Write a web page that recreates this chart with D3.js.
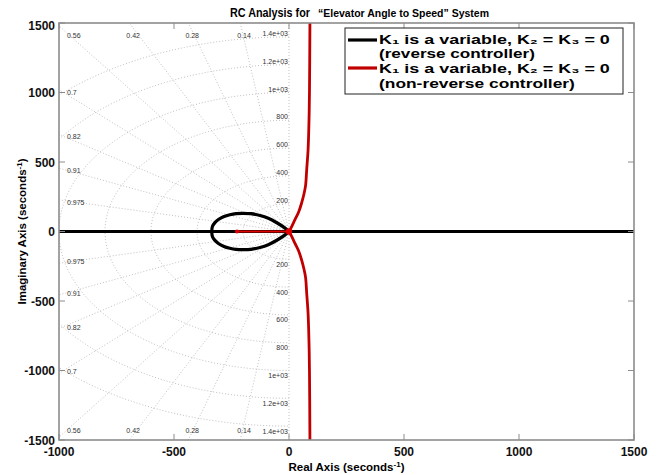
<!DOCTYPE html>
<html>
<head>
<meta charset="utf-8">
<script src="https://cdn.jsdelivr.net/npm/d3@7"></script>
<style>
  html, body { margin: 0; padding: 0; background: #fff; }
  svg { display: block; }
  text { font-family: "Liberation Sans", Arial, sans-serif; }
</style>
</head>
<body>
<div id="chart"></div>
<script>
// Axis ticks
const realTicks = [-1000, -500, 0, 500, 1000, 1500];
const imagTicks = [-1500, -1000, -500, 0, 500, 1000, 1500];

// s-plane grid: damping ratios and natural frequencies (rad/s)
const dampingRatios = [0.14, 0.28, 0.42, 0.56, 0.7, 0.82, 0.91, 0.975];
const dampingLabels = ["0.14", "0.28", "0.42", "0.56", "0.7", "0.82", "0.91", "0.975"];
const naturalFreqs = [200, 400, 600, 800, 1000, 1200, 1400];
const freqLabels = ["200", "400", "600", "800", "1e+03", "1.2e+03", "1.4e+03"];

// Legend entries
const legendGain = "K\u2081 is a variable, K\u2082 = K\u2083 = 0";
const legendNotes = ["(reverse controller)", "(non-reverse controller)"];

// Reverse controller locus: real-axis branch and the closed loop (upper half, mirrored below)
const blackAxisRe = [-1000, 1500];
const blackLoopRe = [0, -20, -53, -90, -126, -165, -199, -230, -257, -285, -307, -323, -333, -336];
const blackLoopIm = [0, 28, 63, 95, 115, 128, 131, 129, 121, 106, 86, 62, 36, 0];

// Non-reverse controller locus: real-axis segment and branch (upper half, mirrored below)
const redAxisRe = [-226, 0];
const redBranchRe = [0, 10, 26, 42, 55, 65, 72, 77, 83, 87, 89, 91];
const redBranchIm = [0, 30, 86, 140, 206, 270, 330, 446, 590, 800, 1000, 1500];

const W = 659, H = 475;
const plot = { left: 59, right: 634, top: 23, bottom: 440 };

const x = d3.scaleLinear().domain([-1000, 1500]).range([plot.left, plot.right]);
const y = d3.scaleLinear().domain([-1500, 1500]).range([plot.bottom, plot.top]);

const svg = d3.select("#chart").append("svg")
  .attr("width", W).attr("height", H);

svg.append("defs").append("clipPath").attr("id", "plotClip")
  .append("rect")
  .attr("x", plot.left).attr("y", plot.top)
  .attr("width", plot.right - plot.left).attr("height", plot.bottom - plot.top);

const area = svg.append("g").attr("clip-path", "url(#plotClip)");
const gridG = area.append("g")
  .attr("fill", "none").attr("stroke", "#b0b0b0")
  .attr("stroke-width", 0.8).attr("stroke-dasharray", "1,2");

// Constant damping rays
dampingRatios.forEach(z => {
  const s = Math.sqrt(1 - z * z);
  [1, -1].forEach(sign => {
    gridG.append("line")
      .attr("x1", x(0)).attr("y1", y(0))
      .attr("x2", x(-z * 5000)).attr("y2", y(sign * s * 5000));
  });
});
// Imaginary axis (zero damping)
gridG.append("line")
  .attr("x1", x(0)).attr("y1", y(-1500)).attr("x2", x(0)).attr("y2", y(1500));

// Constant natural-frequency arcs (left half plane)
const arcLine = d3.line().x(d => x(d[0])).y(d => y(d[1]));
naturalFreqs.forEach(wn => {
  const pts = d3.range(90, 270.5, 1).map(a => {
    const r = a * Math.PI / 180;
    return [wn * Math.cos(r), wn * Math.sin(r)];
  });
  gridG.append("path").attr("d", arcLine(pts));
});

// Grid labels
const gridLbl = svg.append("g").attr("font-size", 7).attr("fill", "#333");
dampingRatios.forEach((z, i) => {
  const s = Math.sqrt(1 - z * z);
  const tLeft = 1000 / z, tTop = 1500 / s;
  if (tLeft <= tTop) {
    const ex = y(s * tLeft), exL = y(-s * tLeft);
    gridLbl.append("text").attr("x", plot.left + 8)
      .attr("y", Math.max(ex + 5, plot.top + 15)).text(dampingLabels[i]);
    gridLbl.append("text").attr("x", plot.left + 8)
      .attr("y", Math.min(exL + 1, plot.bottom - 7)).text(dampingLabels[i]);
  } else {
    const exX = x(-z * tTop);
    gridLbl.append("text").attr("x", exX - 3).attr("y", plot.top + 15).text(dampingLabels[i]);
    gridLbl.append("text").attr("x", exX - 3).attr("y", plot.bottom - 7).text(dampingLabels[i]);
  }
});
naturalFreqs.forEach((wn, i) => {
  gridLbl.append("text").attr("text-anchor", "end")
    .attr("x", x(0) - 1).attr("y", y(wn) - 1).text(freqLabels[i]);
  gridLbl.append("text").attr("text-anchor", "end")
    .attr("x", x(0) - 1).attr("y", y(-wn) + 7.5).text(freqLabels[i]);
});

// Locus curves
const curve = d3.line().x(d => x(d[0])).y(d => y(d[1])).curve(d3.curveCatmullRom);
const upper = (re, im) => re.map((r, i) => [r, im[i]]);
const lower = (re, im) => re.map((r, i) => [r, -im[i]]);

const blackColor = "#000", redColor = "#c00000";

area.append("path").attr("d", curve(blackAxisRe.map(r => [r, 0])))
  .attr("fill", "none").attr("stroke", blackColor).attr("stroke-width", 3.2);
[upper, lower].forEach(f => {
  area.append("path").attr("d", curve(f(blackLoopRe, blackLoopIm)))
    .attr("fill", "none").attr("stroke", blackColor).attr("stroke-width", 3.2);
});

area.append("path").attr("d", curve(redAxisRe.map(r => [r, 0])))
  .attr("fill", "none").attr("stroke", "#e00000").attr("stroke-width", 2.2);
area.append("circle").attr("cx", x(redAxisRe[0])).attr("cy", y(0)).attr("r", 2)
  .attr("fill", "#e00000");
[upper, lower].forEach(f => {
  area.append("path").attr("d", curve(f(redBranchRe, redBranchIm)))
    .attr("fill", "none").attr("stroke", redColor).attr("stroke-width", 2.8);
});
area.append("circle").attr("cx", x(0)).attr("cy", y(0)).attr("r", 3.2).attr("fill", "#e00000");

// Frame and inward ticks
const frame = svg.append("g").attr("stroke", "#8c8c8c").attr("fill", "none");
frame.append("rect")
  .attr("x", plot.left).attr("y", plot.top)
  .attr("width", plot.right - plot.left).attr("height", plot.bottom - plot.top)
  .attr("stroke-width", 1.6);
realTicks.forEach(t => {
  frame.append("line").attr("x1", x(t)).attr("x2", x(t))
    .attr("y1", plot.bottom).attr("y2", plot.bottom - 6);
  frame.append("line").attr("x1", x(t)).attr("x2", x(t))
    .attr("y1", plot.top).attr("y2", plot.top + 6);
});
imagTicks.forEach(t => {
  frame.append("line").attr("y1", y(t)).attr("y2", y(t))
    .attr("x1", plot.left).attr("x2", plot.left + 6);
  frame.append("line").attr("y1", y(t)).attr("y2", y(t))
    .attr("x1", plot.right).attr("x2", plot.right - 6);
});

// Tick labels
const tickG = svg.append("g").attr("font-weight", "bold").attr("font-size", 12).attr("fill", "#111");
realTicks.forEach(t => {
  tickG.append("text").attr("x", x(t)).attr("y", 456)
    .attr("text-anchor", "middle").text(t);
});
imagTicks.forEach(t => {
  tickG.append("text").attr("x", plot.left - 4).attr("y", Math.max(y(t), 25) + 4.5)
    .attr("text-anchor", "end").text(t);
});

// Axis titles
const xt = svg.append("text").attr("x", (plot.left + plot.right) / 2).attr("y", 471)
  .attr("text-anchor", "middle").attr("font-weight", "bold").attr("font-size", 11.5);
xt.append("tspan").text("Real Axis (seconds");
xt.append("tspan").attr("font-size", 8).attr("dy", -4).text("-1");
xt.append("tspan").attr("dy", 4).text(")");

const yt = svg.append("text")
  .attr("transform", `translate(26,${y(0)}) rotate(-90)`)
  .attr("text-anchor", "middle").attr("font-weight", "bold").attr("font-size", 11.5);
yt.append("tspan").text("Imaginary Axis (seconds");
yt.append("tspan").attr("font-size", 8).attr("dy", -4).text("-1");
yt.append("tspan").attr("dy", 4).text(")");

// Title
svg.append("text").attr("x", 230).attr("y", 17)
  .attr("font-family", "'Open Sans', sans-serif").attr("font-weight", "bold").attr("font-size", 13)
  .attr("textLength", 80).attr("lengthAdjust", "spacingAndGlyphs")
  .text("RC Analysis for");
svg.append("text").attr("x", 318).attr("y", 17)
  .attr("font-weight", "bold").attr("font-size", 11)
  .attr("textLength", 171).attr("lengthAdjust", "spacingAndGlyphs")
  .text("\u201CElevator Angle to Speed\u201D System");

// Legend
const legend = svg.append("g");
legend.append("rect").attr("x", 345).attr("y", 28).attr("width", 278).attr("height", 66)
  .attr("fill", "#fff").attr("stroke", "#222").attr("stroke-width", 1);
legend.append("line").attr("x1", 348).attr("x2", 377).attr("y1", 40).attr("y2", 40)
  .attr("stroke", blackColor).attr("stroke-width", 3.2);
legend.append("line").attr("x1", 348).attr("x2", 377).attr("y1", 68).attr("y2", 68)
  .attr("stroke", redColor).attr("stroke-width", 3.2);

const legendFont = "'DejaVu Sans', Verdana, sans-serif";
// Each legend line is drawn at natural width, then squeezed horizontally to its slot
function legendLine(yPos, txt, width) {
  const g = legend.append("g");
  const t = g.append("text").attr("x", 0).attr("y", 0)
    .attr("font-family", legendFont).attr("font-weight", "bold").attr("font-size", 13.5)
    .text(txt);
  const w = t.node().getComputedTextLength();
  g.attr("transform", `translate(379,${yPos}) scale(${width / w},1)`);
}
legendLine(43.5, legendGain, 231);
legendLine(58.3, legendNotes[0], 156);
legendLine(73.1, legendGain, 231);
legendLine(87.9, legendNotes[1], 196);
</script>
</body>
</html>
